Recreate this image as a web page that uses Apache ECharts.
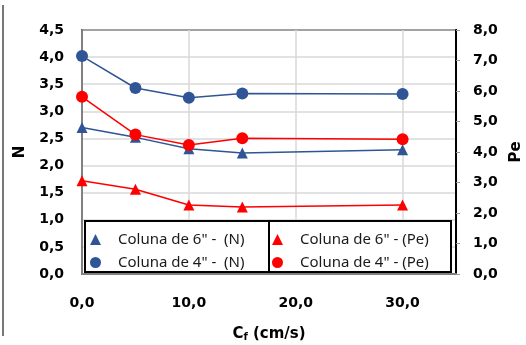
<!DOCTYPE html>
<html><head><meta charset="utf-8">
<script src="https://cdn.jsdelivr.net/npm/echarts@6/dist/echarts.min.js"></script>
<style>html,body{margin:0;padding:0;background:#fff}#c{width:526px;height:345px}</style>
</head><body><div id="c"></div>
<script>
const xValues = [0, 5, 10, 15, 30];
const n6 = [2.70, 2.52, 2.31, 2.23, 2.29];
const n4 = [4.02, 3.43, 3.25, 3.33, 3.32];
const pe6 = [3.06, 2.78, 2.26, 2.20, 2.26];
const pe4 = [5.81, 4.57, 4.23, 4.45, 4.42];
const names = ['Coluna de 6" -  (N)', 'Coluna de 4" -  (N)', 'Coluna de 6" - (Pe)', 'Coluna de 4" - (Pe)'];
const blue = '#2f5597', red = '#ff0000';
const pair = a => xValues.map((x, i) => [x, a[i]]);
const fmt = v => v.toFixed(1).replace('.', ',');
const chart = echarts.init(document.getElementById('c'));
const lblFont = {fontFamily: 'DejaVu Sans', fontWeight: 'bold', fontSize: 14, color: '#000'};
const legText = {fontFamily: 'Noto Sans', fontSize: 15, color: '#1a1a1a', padding: [0, 0, 0, 12]};
chart.setOption({
  animation: false,
  grid: {left: 82, right: 70, top: 30, bottom: 71, show: true, borderColor: '#000', borderWidth: 2,
    containLabel: false, outerBoundsMode: 'none'},
  xAxis: {type: 'value', min: 0, max: 35, interval: 10,
    axisLine: {lineStyle: {color: '#808080', width: 2}}, axisTick: {show: false},
    splitLine: {lineStyle: {color: '#d9d9d9', width: 1.5}},
    axisLabel: Object.assign({margin: 22, showMaxLabel: false, formatter: v => v === 35 ? '' : fmt(v)}, lblFont),
    name: 'C{s|f} (cm/s)', nameLocation: 'middle', nameGap: 52,
    nameTextStyle: {fontFamily: 'DejaVu Sans', fontWeight: 'bold', fontSize: 15, color: '#000',
      rich: {s: {fontFamily: 'DejaVu Sans', fontWeight: 'bold', fontSize: 10, color: '#000', verticalAlign: 'bottom', padding: [6, 0, 0, 0]}}}
  },
  yAxis: [
    {type: 'value', min: 0, max: 4.5, interval: 0.5,
      axisLine: {show: true, lineStyle: {color: '#808080', width: 2}}, axisTick: {show: false},
      splitLine: {lineStyle: {color: '#d9d9d9', width: 1.5}},
      axisLabel: Object.assign({margin: 18, formatter: fmt}, lblFont),
      name: 'N', nameLocation: 'middle', nameGap: 54, nameRotate: 90,
      nameTextStyle: {fontFamily: 'DejaVu Sans', fontWeight: 'bold', fontSize: 15, color: '#000'}},
    {type: 'value', min: 0, max: 8, interval: 1, position: 'right',
      axisLine: {show: true, lineStyle: {color: '#000', width: 2}},
      axisTick: {show: true, length: 4, lineStyle: {color: '#999', width: 1}},
      splitLine: {show: false},
      axisLabel: Object.assign({margin: 17, formatter: fmt}, lblFont),
      name: 'Pe', nameLocation: 'middle', nameGap: 50, nameRotate: 90,
      nameTextStyle: {fontFamily: 'DejaVu Sans', fontWeight: 'bold', fontSize: 15, color: '#000'}}
  ],
  legend: [
    {left: 85, top: 227, orient: 'vertical', itemGap: 8, itemWidth: 11, itemHeight: 11,
      textStyle: legText, data: [{name: names[0], icon: 'triangle'}, {name: names[1], icon: 'circle'}]},
    {left: 267, top: 227, orient: 'vertical', itemGap: 8, itemWidth: 11, itemHeight: 11,
      textStyle: legText, data: [{name: names[2], icon: 'triangle'}, {name: names[3], icon: 'circle'}]}
  ],
  graphic: [
    {type: 'rect', z: 1, shape: {x: 85, y: 221, width: 366, height: 51}, style: {fill: '#fff', stroke: '#000', lineWidth: 2}},
    {type: 'line', z: 1, shape: {x1: 269, y1: 221, x2: 269, y2: 272}, style: {stroke: '#000', lineWidth: 2}},
    {type: 'line', z: 1, shape: {x1: 3, y1: 5, x2: 3, y2: 336}, style: {stroke: '#777', lineWidth: 2}}
  ],
  series: [
    {name: names[0], type: 'line', yAxisIndex: 0, data: pair(n6), symbol: 'triangle', symbolSize: 11,
      itemStyle: {color: blue}, lineStyle: {color: blue, width: 1.5}},
    {name: names[1], type: 'line', yAxisIndex: 0, data: pair(n4), symbol: 'circle', symbolSize: 12,
      itemStyle: {color: blue}, lineStyle: {color: blue, width: 1.5}},
    {name: names[2], type: 'line', yAxisIndex: 1, data: pair(pe6), symbol: 'triangle', symbolSize: 11,
      itemStyle: {color: red}, lineStyle: {color: red, width: 1.5}},
    {name: names[3], type: 'line', yAxisIndex: 1, data: pair(pe4), symbol: 'circle', symbolSize: 12,
      itemStyle: {color: red}, lineStyle: {color: red, width: 1.5}}
  ]
});
</script></body></html>
